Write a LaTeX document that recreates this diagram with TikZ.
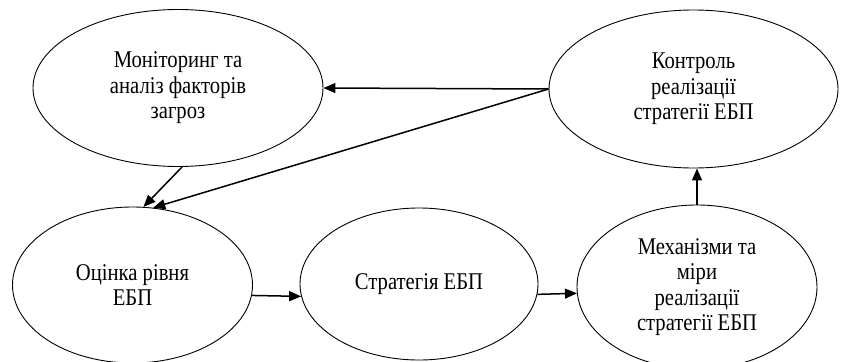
\documentclass[tikz,border=0pt]{standalone}
\usepackage{fontspec}
\setmainfont{Liberation Serif}
\newfontfamily\ovalfont[FakeStretch=0.86]{Liberation Serif}
\usetikzlibrary{shapes.geometric,arrows.meta}
\begin{document}
\begin{tikzpicture}[x=1pt,y=-1pt,
  oval/.style={ellipse,draw,line width=0.9pt,inner sep=0pt,align=center,
    font=\ovalfont\fontsize{24}{25.5}\selectfont},
  arr/.style={line width=1.5pt,-{Triangle[length=12pt,width=10pt]}}]
\useasboundingbox (0,0) rectangle (842,361);
\node[oval,minimum width=290pt,minimum height=157pt] (m) at (178,88) {Моніторинг та\\аналіз факторів\\загроз};
\node[oval,minimum width=289pt,minimum height=158pt] (k) at (693.5,89) {Контроль\\реалізації\\стратегії ЕБП};
\node[oval,minimum width=240pt,minimum height=156pt] (o) at (132.5,285) {Оцінка рівня\\ЕБП};
\node[oval,minimum width=238pt,minimum height=152pt] (s) at (419,284) {Стратегія ЕБП};
\node[oval,minimum width=240pt,minimum height=164pt] (r) at (697,287) {Механізми та\\міри\\реалізації\\стратегії ЕБП};
\draw[arr] (k.west) -- (m.east);
\draw[arr] (k.west) -- (o.75);
\draw[arr] (m.-87) -- (o.82);
\draw[arr] (o.-5) -- (s.186);
\draw[arr] (s.-5) -- (r.183);
\draw[arr] (r.north) -- (r.north |- k.south);
\end{tikzpicture}
\end{document}
